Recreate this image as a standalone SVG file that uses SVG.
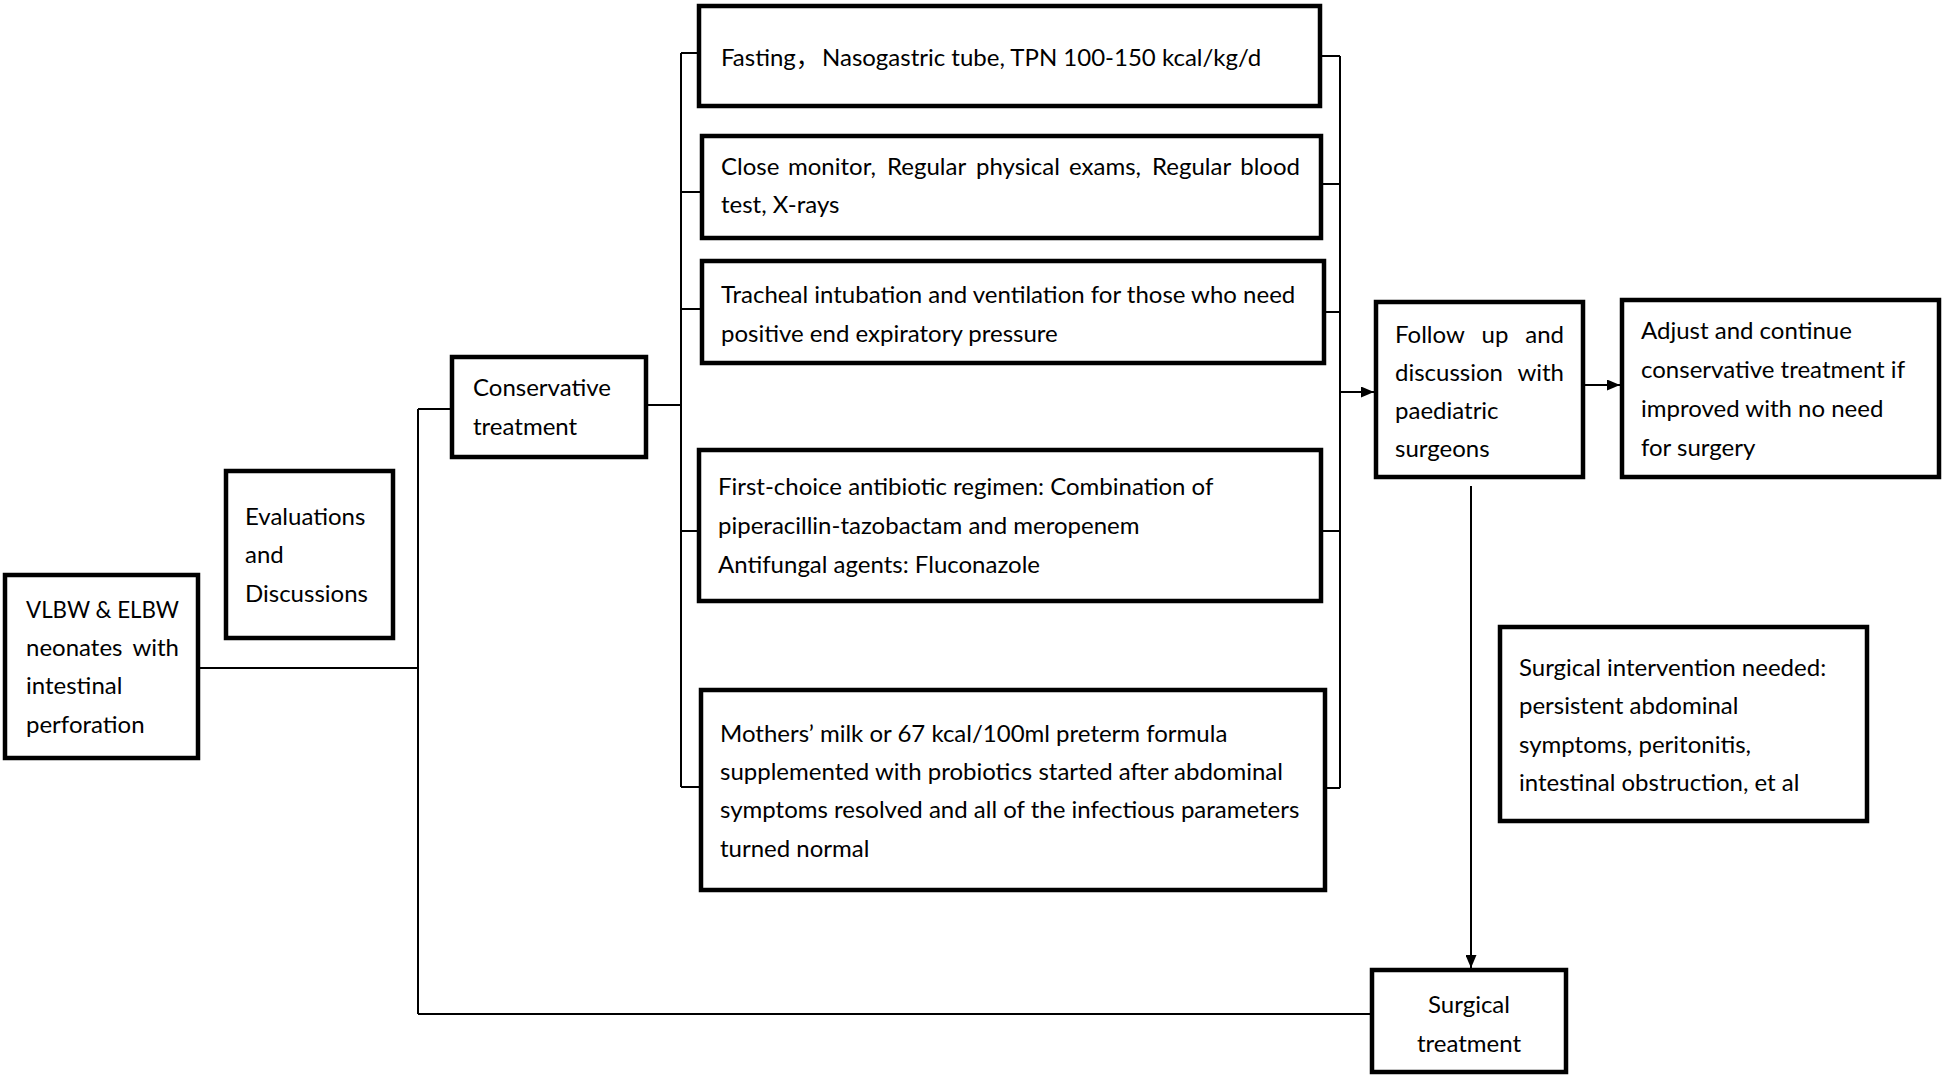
<svg xmlns="http://www.w3.org/2000/svg" width="1946" height="1078" viewBox="0 0 1946 1078">
<defs>
<style>
.box{fill:#fff;stroke:#000;stroke-width:4.5}
.ln{fill:none;stroke:#000;stroke-width:2}
text{font-family:Lato,"Liberation Sans",sans-serif;font-size:24px;fill:#000}
.cjk{font-family:"Noto Sans CJK SC",sans-serif}
.e{text-anchor:end}
.m{text-anchor:middle}
</style>
<marker id="ah" markerWidth="13" markerHeight="11" refX="13" refY="5.5" orient="auto" markerUnits="userSpaceOnUse"><path d="M0,0 L13,5.5 L0,11 z" fill="#000"/></marker>
</defs>
<rect width="1946" height="1078" fill="#fff"/>
<g id="connectors">
<path class="ln" d="M200,668 H418"/>
<path class="ln" d="M418,409 V1014"/>
<path class="ln" d="M418,409 H450"/>
<path class="ln" d="M418,1014 H1370"/>
<path class="ln" d="M648,405 H681"/>
<path class="ln" d="M681,53 V787"/>
<path class="ln" d="M681,53 H697 M681,192 H700 M681,309 H700 M681,531 H697 M681,787 H699"/>
<path class="ln" d="M1340,56 V788"/>
<path class="ln" d="M1322,56 H1340 M1323,184 H1340 M1326,312 H1340 M1323,531 H1340 M1327,788 H1340"/>
<path class="ln" d="M1340,392 H1374" marker-end="url(#ah)"/>
<path class="ln" d="M1585,385 H1620" marker-end="url(#ah)"/>
<path class="ln" d="M1471,486 V968" marker-end="url(#ah)"/>
</g>
<g id="vlbw">
<rect class="box" x="5" y="575" width="193" height="183"/>
<text><tspan x="26" y="618" textLength="153" lengthAdjust="spacingAndGlyphs">VLBW &amp; ELBW</tspan></text>
<text><tspan x="26" y="656">neonates</tspan><tspan x="179" y="656" class="e">with</tspan></text>
<text><tspan x="26" y="694">intestinal</tspan><tspan x="26" y="733">perforation</tspan></text>
</g>
<g id="evaluations">
<rect class="box" x="226" y="471" width="167" height="167"/>
<text><tspan x="245" y="525">Evaluations</tspan><tspan x="245" y="563">and</tspan><tspan x="245" y="602">Discussions</tspan></text>
</g>
<g id="conservative">
<rect class="box" x="452" y="357" width="194" height="100"/>
<text><tspan x="473" y="396">Conservative</tspan><tspan x="473" y="435">treatment</tspan></text>
</g>
<g id="fasting">
<rect class="box" x="699" y="6" width="621" height="100"/>
<text><tspan x="721" y="66">Fasting</tspan><tspan class="cjk">，</tspan><tspan x="822" y="66">Nasogastric tube, TPN 100-150 kcal/kg/d</tspan></text>
</g>
<g id="monitor">
<rect class="box" x="702" y="136" width="619" height="102"/>
<text><tspan x="721" y="175">Close</tspan><tspan x="788" y="175">monitor,</tspan><tspan x="887" y="175">Regular</tspan><tspan x="976" y="175">physical</tspan><tspan x="1069" y="175">exams,</tspan><tspan x="1152" y="175">Regular</tspan><tspan x="1300" y="175" class="e">blood</tspan></text>
<text><tspan x="721" y="213">test, X-rays</tspan></text>
</g>
<g id="tracheal">
<rect class="box" x="702" y="261" width="622" height="102"/>
<text><tspan x="721" y="303">Tracheal intubation and ventilation for those who need</tspan><tspan x="721" y="342">positive end expiratory pressure</tspan></text>
</g>
<g id="antibiotic">
<rect class="box" x="699" y="450" width="622" height="151"/>
<text><tspan x="718" y="495">First-choice antibiotic regimen: Combination of</tspan><tspan x="718" y="534">piperacillin-tazobactam and meropenem</tspan><tspan x="718" y="573">Antifungal agents: Fluconazole</tspan></text>
</g>
<g id="milk">
<rect class="box" x="701" y="690" width="624" height="200"/>
<text><tspan x="720" y="742">Mothers’ milk or 67 kcal/100ml preterm formula</tspan><tspan x="720" y="780">supplemented with probiotics started after abdominal</tspan><tspan x="720" y="818">symptoms resolved and all of the infectious parameters</tspan><tspan x="720" y="857">turned normal</tspan></text>
</g>
<g id="followup">
<rect class="box" x="1376" y="302" width="207" height="175"/>
<text><tspan x="1395" y="343">Follow</tspan><tspan x="1495" y="343" class="m">up</tspan><tspan x="1564" y="343" class="e">and</tspan></text>
<text><tspan x="1395" y="381">discussion</tspan><tspan x="1564" y="381" class="e">with</tspan></text>
<text><tspan x="1395" y="419">paediatric</tspan><tspan x="1395" y="457">surgeons</tspan></text>
</g>
<g id="adjust">
<rect class="box" x="1622" y="300" width="317" height="177"/>
<text><tspan x="1641" y="339">Adjust and continue</tspan><tspan x="1641" y="378">conservative treatment if</tspan><tspan x="1641" y="417">improved with no need</tspan><tspan x="1641" y="456">for surgery</tspan></text>
</g>
<g id="indication">
<rect class="box" x="1500" y="627" width="367" height="194"/>
<text><tspan x="1519" y="676">Surgical intervention needed:</tspan><tspan x="1519" y="714">persistent abdominal</tspan><tspan x="1519" y="753">symptoms, peritonitis,</tspan><tspan x="1519" y="791">intestinal obstruction, et al</tspan></text>
</g>
<g id="surgical">
<rect class="box" x="1372" y="970" width="194" height="102"/>
<text class="m"><tspan x="1469" y="1013">Surgical</tspan><tspan x="1469" y="1052">treatment</tspan></text>
</g>
</svg>
